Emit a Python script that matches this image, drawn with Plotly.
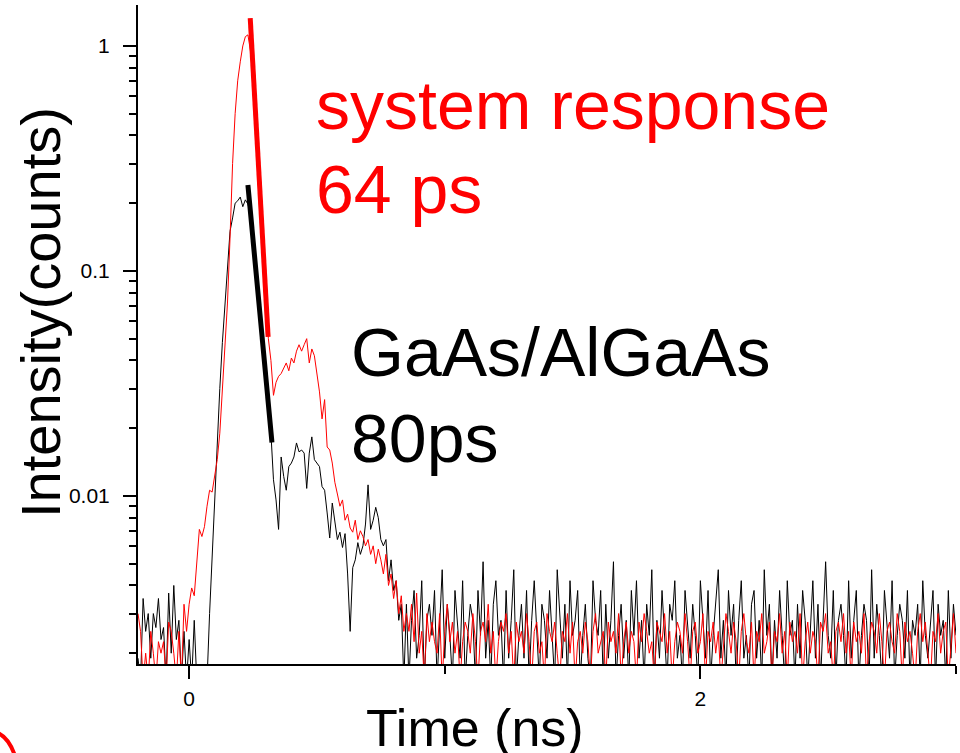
import numpy as np
import plotly.graph_objects as go

# ---------------- data ----------------
t_start_ns = -0.2
t_step_ns = 0.01

# system response (red), normalised counts
red_intensity = [
    0.003, 0.0025, 0.0015, 0.002, 0.0015, 0.0025, 0.002, 0.0015, 0.00225, 0.002,
    0.00225, 0.0015, 0.00275, 0.0025, 0.002, 0.0015, 0.0025, 0.0015, 0.0033, 0.0025,
    0.0033, 0.0039, 0.0036, 0.0052, 0.0071, 0.0066, 0.0073, 0.009, 0.0106, 0.0104,
    0.0125, 0.0145, 0.019, 0.03, 0.048, 0.072, 0.14, 0.3, 0.5, 0.7,
    0.85, 1.0, 1.1, 1.12, 0.95, 0.75, 0.5, 0.31, 0.2, 0.124,
    0.078, 0.05, 0.04, 0.028, 0.032, 0.034, 0.035, 0.037, 0.039, 0.036,
    0.041, 0.039, 0.044, 0.047, 0.044, 0.047, 0.050, 0.039, 0.045, 0.042,
    0.034, 0.029, 0.022, 0.0268, 0.0165, 0.016, 0.014, 0.0115, 0.0102, 0.009,
    0.0096, 0.0078, 0.0083, 0.0072, 0.0069, 0.0078, 0.0064, 0.007, 0.0066, 0.006,
    0.0064, 0.0055, 0.006, 0.005, 0.0058, 0.0052, 0.0045, 0.0055, 0.004, 0.0045,
    0.0035, 0.0042, 0.003, 0.0036, 0.0025,
    0.003, 0.0025, 0.0033, 0.00225, 0.0037, 0.002, 0.0025, 0.0015, 0.003, 0.00225,
    0.00275, 0.00225, 0.002, 0.003, 0.0015, 0.0025, 0.0033, 0.00225, 0.00275, 0.002,
    0.0025, 0.0015, 0.00225, 0.00275, 0.0025, 0.002, 0.003, 0.00225, 0.0015, 0.0025,
    0.00275, 0.00225, 0.0033, 0.002, 0.0025, 0.0015, 0.00225, 0.00275, 0.0025, 0.003,
    0.002, 0.0025, 0.0015, 0.00275, 0.00225, 0.0025, 0.002, 0.003, 0.00225, 0.0015,
    0.0025, 0.00275, 0.002, 0.00225, 0.0015, 0.003, 0.0025, 0.00225, 0.00275, 0.002,
    0.0015, 0.0025, 0.00225, 0.003, 0.002, 0.00275, 0.0015, 0.00225, 0.0025, 0.002,
    0.00275, 0.00225, 0.0015, 0.0025, 0.003, 0.002, 0.00225, 0.0025, 0.0015, 0.00275,
    0.00225, 0.0025, 0.002, 0.003, 0.0015, 0.00225, 0.00275, 0.002, 0.0025, 0.00225,
    0.0015, 0.00275, 0.00225, 0.003, 0.0025, 0.002, 0.00225, 0.0015, 0.00275, 0.0025,
    0.00225, 0.003, 0.002, 0.0025, 0.0015, 0.00225, 0.00275, 0.0025, 0.002, 0.003,
    0.00225, 0.0015, 0.0025, 0.00275, 0.002, 0.00225, 0.003, 0.0015, 0.0025, 0.00225,
    0.00275, 0.002, 0.0025, 0.0015, 0.00225, 0.003, 0.0025, 0.002, 0.00275, 0.00225,
    0.0015, 0.0025, 0.003, 0.00225, 0.002, 0.00275, 0.0015, 0.0025, 0.00225, 0.003,
    0.002, 0.00225, 0.00275, 0.0015, 0.0025, 0.00225, 0.003, 0.002, 0.0025, 0.0015,
    0.00275, 0.00225, 0.0025, 0.002, 0.003, 0.0015, 0.00225, 0.00275, 0.002, 0.0025,
    0.00225, 0.0015, 0.00275, 0.0025, 0.003, 0.002, 0.00225, 0.0015, 0.0025, 0.00275,
    0.00225, 0.003, 0.002, 0.0025, 0.0015, 0.00275, 0.00225, 0.0025, 0.002, 0.003,
    0.0015, 0.00225, 0.00275, 0.0025, 0.002, 0.003, 0.00225, 0.0015, 0.0025, 0.00275,
    0.00225, 0.002, 0.003, 0.0025, 0.0015, 0.00275, 0.00225, 0.0025, 0.002, 0.0015,
    0.0025, 0.003, 0.00225, 0.00275, 0.002, 0.0015, 0.0025, 0.00225, 0.003, 0.002,
    0.0025, 0.00275, 0.0015, 0.00225, 0.003, 0.002,
]

# GaAs/AlGaAs sample (black), normalised counts
black_intensity = [
    0.0019, 0.0015, 0.0035, 0.0025, 0.003, 0.0019, 0.003, 0.0026, 0.0035, 0.0023,
    0.0026, 0.0015, 0.0037, 0.002, 0.004, 0.0023, 0.0028, 0.0015, 0.0025, 0.0015,
    0.0023, 0.0015, 0.0028, 0.0015, 0.0015, 0.0015, 0.0015, 0.0015, 0.003, 0.0055,
    0.009, 0.017, 0.03, 0.048, 0.07, 0.1, 0.15, 0.172, 0.2, 0.205,
    0.213, 0.193, 0.207, 0.198, 0.18, 0.136, 0.103, 0.077, 0.059, 0.044,
    0.033, 0.025, 0.019, 0.0118, 0.0096, 0.0071, 0.0149, 0.0122, 0.0106, 0.0135,
    0.014, 0.0149, 0.0172, 0.0157, 0.016, 0.0155, 0.0108, 0.0155, 0.0183, 0.0145,
    0.014, 0.0135, 0.011, 0.0106, 0.0084, 0.0065, 0.0093, 0.0075, 0.0064, 0.0069,
    0.0059, 0.0068, 0.0045, 0.0025, 0.0048, 0.0052, 0.0062, 0.0055, 0.006, 0.0075,
    0.0112, 0.0071, 0.0078, 0.0089, 0.008, 0.0064, 0.006, 0.0064, 0.0042, 0.0052,
    0.0038, 0.0042, 0.0028, 0.0033, 0.0015,
    0.0033, 0.0015, 0.0028, 0.0038, 0.0019, 0.0024, 0.0042, 0.0015, 0.0028, 0.0033,
    0.0024, 0.0038, 0.0015, 0.0028, 0.0047, 0.0019, 0.0033, 0.0024, 0.0015, 0.0038,
    0.0028, 0.0019, 0.0042, 0.0015, 0.0024, 0.0033, 0.0028, 0.0015, 0.0038, 0.0024,
    0.0051, 0.0019, 0.0028, 0.0015, 0.0033, 0.0042, 0.0024, 0.0028, 0.0015, 0.0038,
    0.0019, 0.0028, 0.0047, 0.0015, 0.0024, 0.0033, 0.0019, 0.0038, 0.0015, 0.0028,
    0.0042, 0.0024, 0.0015, 0.0033, 0.0028, 0.0019, 0.0038, 0.0024, 0.0015, 0.0047,
    0.0028, 0.0019, 0.0033, 0.0015, 0.0042, 0.0024, 0.0028, 0.0038, 0.0015, 0.0024,
    0.0033, 0.0019, 0.0015, 0.0042, 0.0028, 0.0024, 0.0038, 0.0015, 0.0033, 0.0019,
    0.0028, 0.0051, 0.0015, 0.0024, 0.0033, 0.0019, 0.0028, 0.0015, 0.0038, 0.0024,
    0.0042, 0.0019, 0.0028, 0.0015, 0.0033, 0.0024, 0.0047, 0.0015, 0.0028, 0.0019,
    0.0038, 0.0024, 0.0015, 0.0033, 0.0028, 0.0042, 0.0019, 0.0024, 0.0015, 0.0038,
    0.0028, 0.0019, 0.0033, 0.0024, 0.0015, 0.0042, 0.0028, 0.0019, 0.0038, 0.0015,
    0.0024, 0.0033, 0.0047, 0.0019, 0.0028, 0.0015, 0.0038, 0.0024, 0.0033, 0.0015,
    0.0028, 0.0042, 0.0019, 0.0024, 0.0015, 0.0033, 0.0038, 0.0019, 0.0028, 0.0015,
    0.0047, 0.0024, 0.0033, 0.0015, 0.0028, 0.0019, 0.0038, 0.0024, 0.0015, 0.0042,
    0.0024, 0.0028, 0.0015, 0.0033, 0.0019, 0.0038, 0.0028, 0.0015, 0.0024, 0.0042,
    0.0019, 0.0033, 0.0015, 0.0028, 0.0051, 0.0024, 0.0019, 0.0038, 0.0015, 0.0028,
    0.0033, 0.0024, 0.0015, 0.0042, 0.0019, 0.0028, 0.0038, 0.0015, 0.0024, 0.0033,
    0.0028, 0.0015, 0.0047, 0.0019, 0.0033, 0.0024, 0.0015, 0.0038, 0.0028, 0.0019,
    0.0042, 0.0015, 0.0024, 0.0033, 0.0028, 0.0019, 0.0038, 0.0015, 0.0028, 0.0024,
    0.0033, 0.0015, 0.0042, 0.0024, 0.0019, 0.0028, 0.0038, 0.0015, 0.0033, 0.0024,
    0.0028, 0.0015, 0.0038, 0.0019, 0.0033, 0.0024,
]

# drawn decay fit lines (start / end points)
red_fit_time = [0.239, 0.309]
red_fit_intensity = [1.33, 0.0509]
black_fit_time = [0.230, 0.324]
black_fit_intensity = [0.241, 0.01726]

x_tick_vals = [0, 2]
x_tick_text = ["0", "2"]
x_minor_vals = [1, 3]
y_tick_vals = [0.01, 0.1, 1]
y_tick_text = ["0.01", "0.1", "1"]
y_minor_vals = [0.002, 0.003, 0.004, 0.005, 0.006, 0.007, 0.008, 0.009,
                0.02, 0.03, 0.04, 0.05, 0.06, 0.07, 0.08, 0.09,
                0.2, 0.3, 0.4, 0.5, 0.6, 0.7, 0.8, 0.9]

red_time = np.round(t_start_ns + t_step_ns * np.arange(len(red_intensity)), 3)
black_time = np.round(t_start_ns + t_step_ns * np.arange(len(black_intensity)), 3)

FONT = "Liberation Sans, Arial, Helvetica, sans-serif"
RED = "#ff0000"
BLACK = "#000000"

fig = go.Figure()
fig.add_trace(go.Scatter(x=black_time, y=black_intensity, mode="lines",
                         line=dict(color=BLACK, width=1), name="GaAs/AlGaAs"))
fig.add_trace(go.Scatter(x=red_time, y=red_intensity, mode="lines",
                         line=dict(color=RED, width=1), name="system response"))
fig.add_trace(go.Scatter(x=black_fit_time, y=black_fit_intensity, mode="lines",
                         line=dict(color=BLACK, width=5), name="fit 80ps"))
fig.add_trace(go.Scatter(x=red_fit_time, y=red_fit_intensity, mode="lines",
                         line=dict(color=RED, width=5), name="fit 64ps"))

L, R, T, B = 138, 4, 5, 89
W, H = 960, 753
PW, PH = W - L - R, H - T - B


def px_x(px):
    return (px - L) / PW


def px_y(py):
    return (H - B - py) / PH


annos = [
    dict(text="system response", x=px_x(314), y=px_y(105), color=RED, size=68, angle=0, xa="left"),
    dict(text="64 ps", x=px_x(314), y=px_y(189), color=RED, size=68, angle=0, xa="left"),
    dict(text="GaAs/AlGaAs", x=px_x(349), y=px_y(352), color=BLACK, size=68, angle=0, xa="left"),
    dict(text="80ps", x=px_x(349), y=px_y(438), color=BLACK, size=68, angle=0, xa="left"),
    dict(text="Intensity(counts)", x=px_x(40), y=px_y(313), color=BLACK, size=56, angle=-90, xa="center"),
    dict(text="Time (ns)", x=px_x(475), y=px_y(728), color=BLACK, size=52, angle=0, xa="center"),
]
for a in annos:
    fig.add_annotation(text=a["text"], x=a["x"], y=a["y"], xref="paper", yref="paper",
                       xanchor=a["xa"], yanchor="middle", showarrow=False,
                       textangle=a["angle"],
                       font=dict(family=FONT, size=a["size"], color=a["color"]))

# red arc in the lower-left corner (path in paper coordinates)
arc_path = "M {:.5f},{:.5f} Q {:.5f},{:.5f} {:.5f},{:.5f}".format(
    px_x(-2), px_y(733), px_x(9), px_y(738), px_x(15), px_y(756))
fig.add_shape(type="path", xref="paper", yref="paper", path=arc_path,
              line=dict(color=RED, width=4))

axis_common = dict(showline=True, linecolor=BLACK, linewidth=2, ticks="outside",
                   tickcolor=BLACK, tickwidth=2, ticklen=13, showgrid=False,
                   zeroline=False, tickfont=dict(family=FONT, size=21, color=BLACK))

fig.update_xaxes(range=[-0.2, 3.0], tickmode="array", tickvals=x_tick_vals,
                 ticktext=x_tick_text, ticklabelstandoff=2,
                 minor=dict(tickmode="array", tickvals=x_minor_vals, ticks="outside",
                            ticklen=8, tickwidth=2, tickcolor=BLACK, showgrid=False),
                 **axis_common)
fig.update_yaxes(type="log", range=[-2.747, 0.182], tickmode="array",
                 tickvals=y_tick_vals, ticktext=y_tick_text, ticklabelstandoff=9,
                 minor=dict(tickmode="array", tickvals=y_minor_vals, ticks="outside",
                            ticklen=7, tickwidth=2, tickcolor=BLACK, showgrid=False),
                 **axis_common)

fig.update_layout(width=W, height=H, margin=dict(l=L, r=R, t=T, b=B, autoexpand=False),
                  paper_bgcolor="white", plot_bgcolor="white", showlegend=False,
                  font=dict(family=FONT, color=BLACK))

fig.write_html(
    "out.html",
    config={"displayModeBar": False},
    post_script="document.body.style.margin='0';document.body.style.padding='0';"
                "document.body.style.overflow='hidden';",
)
